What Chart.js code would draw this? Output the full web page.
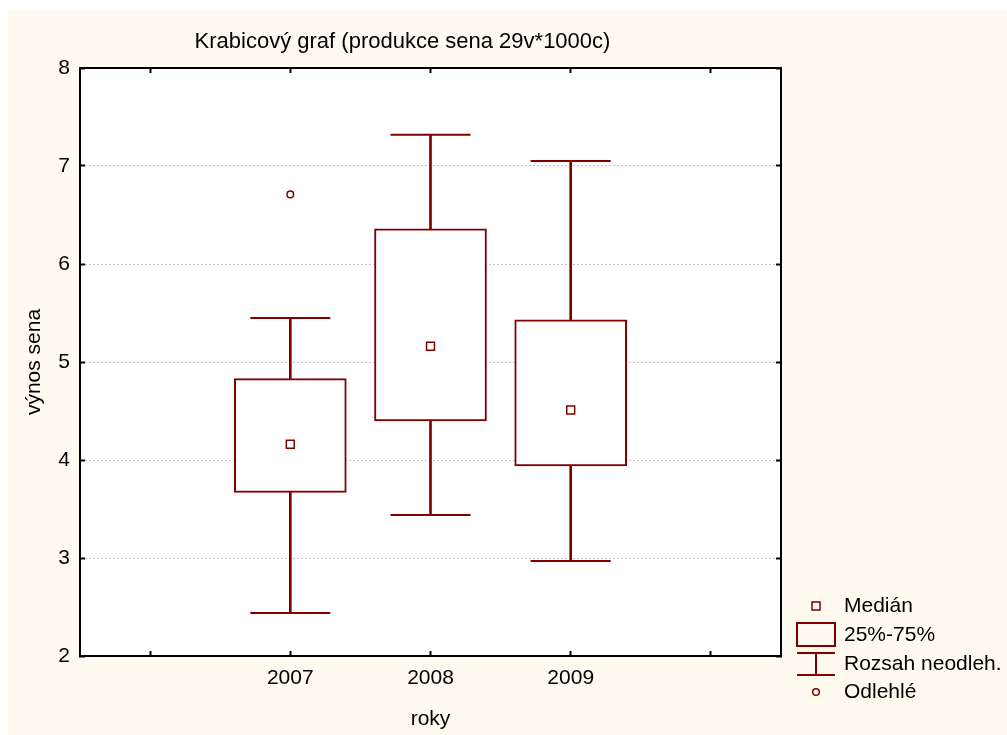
<!DOCTYPE html>
<html lang="cs">
<head>
  <meta charset="UTF-8">
  <title>Krabicový graf</title>
  <script src="https://cdn.jsdelivr.net/npm/chart.js"></script>
  <style>
    html, body { margin: 0; padding: 0; background: #fff; }
  </style>
</head>
<body>
  <canvas id="boxChart" width="1007" height="735"></canvas>

  <script>
    // values
    const years = ['2007', '2008', '2009'];
    const medians = [4.16, 5.16, 4.51];
    const q1 = [3.67, 4.40, 3.94];
    const q3 = [4.83, 6.36, 5.43];
    const whiskerLow = [2.44, 3.44, 2.97];
    const whiskerHigh = [5.45, 7.32, 7.05];
    const outliers = [6.71, null, null];
    const yTicks = [2, 3, 4, 5, 6, 7, 8];
    const legendLabels = ['Medián', '25%-75%', 'Rozsah neodleh.', 'Odlehlé'];

    const dark = '#800000';
    const fontFamily = "'Liberation Sans', Arial, sans-serif";
    const labels = ['', ...years, ''];
    const pad = arr => [null, ...arr, null];

    Chart.defaults.font.family = fontFamily;
    Chart.defaults.font.size = 21;
    Chart.defaults.color = '#000';

    const paper = {
      id: 'paper',
      beforeDraw(chart) {
        const { ctx, width, height, chartArea: a } = chart;
        ctx.save();
        ctx.fillStyle = '#fff';
        ctx.fillRect(0, 0, width, height);
        ctx.fillStyle = '#fefaf0';
        ctx.fillRect(8, 10, width - 8, height - 10);
        ctx.fillStyle = '#fff';
        ctx.fillRect(a.left, a.top, a.right - a.left, a.bottom - a.top);
        ctx.restore();
      }
    };

    // legend with the box plot symbols, below-right of the plot
    const boxLegend = {
      id: 'boxLegend',
      afterDraw(chart) {
        const { ctx, chartArea: a } = chart;
        const sx = a.right + 35;
        const tx = a.right + 63;
        const ys = [a.bottom - 50, a.bottom - 21, a.bottom + 8, a.bottom + 36];
        ctx.save();
        ctx.strokeStyle = dark;

        ctx.lineWidth = 1.5;
        ctx.fillStyle = '#fff';
        ctx.fillRect(sx - 4, ys[0] - 4, 8, 8);
        ctx.strokeRect(sx - 4, ys[0] - 4, 8, 8);

        ctx.lineWidth = 2;
        ctx.strokeRect(sx - 19, ys[1] - 12, 38, 23);

        ctx.beginPath();
        ctx.moveTo(sx - 19, ys[2] - 11); ctx.lineTo(sx + 19, ys[2] - 11);
        ctx.moveTo(sx, ys[2] - 11); ctx.lineTo(sx, ys[2] + 11);
        ctx.moveTo(sx - 19, ys[2] + 11); ctx.lineTo(sx + 19, ys[2] + 11);
        ctx.stroke();

        ctx.lineWidth = 1.5;
        ctx.beginPath();
        ctx.arc(sx, ys[3], 3.3, 0, Math.PI * 2);
        ctx.stroke();

        ctx.fillStyle = '#000';
        ctx.font = '21px ' + fontFamily;
        ctx.textBaseline = 'middle';
        ctx.textAlign = 'left';
        legendLabels.forEach((t, i) => ctx.fillText(t, tx, ys[i]));
        ctx.restore();
      }
    };

    const setTicks = scale => { scale.ticks = yTicks.map(v => ({ value: v })); };
    const inwardTicks = { tickLength: -5, tickColor: '#000', tickWidth: 2 };

    new Chart(document.getElementById('boxChart'), {
      type: 'bar',
      data: {
        labels: labels,
        datasets: [
          {
            label: '25%-75%',
            data: pad(q1.map((v, i) => [v, q3[i]])),
            backgroundColor: '#fff',
            borderColor: dark,
            borderWidth: 2,
            borderSkipped: false,
            barThickness: 112,
            grouped: false,
            order: 3
          },
          {
            label: 'stem low',
            data: pad(whiskerLow.map((v, i) => [v, q1[i]])),
            backgroundColor: dark,
            borderWidth: 0,
            barThickness: 2,
            grouped: false,
            order: 4
          },
          {
            label: 'stem high',
            data: pad(q3.map((v, i) => [v, whiskerHigh[i]])),
            backgroundColor: dark,
            borderWidth: 0,
            barThickness: 2,
            grouped: false,
            order: 4
          },
          {
            type: 'line',
            label: 'cap low',
            data: pad(whiskerLow),
            showLine: false,
            pointStyle: 'line',
            pointRadius: 40,
            pointBorderColor: dark,
            pointBorderWidth: 2,
            order: 2
          },
          {
            type: 'line',
            label: 'cap high',
            data: pad(whiskerHigh),
            showLine: false,
            pointStyle: 'line',
            pointRadius: 40,
            pointBorderColor: dark,
            pointBorderWidth: 2,
            order: 2
          },
          {
            type: 'line',
            label: 'Medián',
            data: pad(medians),
            showLine: false,
            pointStyle: 'rect',
            pointRadius: 5.6,
            pointBackgroundColor: '#fff',
            pointBorderColor: dark,
            pointBorderWidth: 1.5,
            order: 0
          },
          {
            type: 'line',
            label: 'Odlehlé',
            data: pad(outliers),
            showLine: false,
            pointStyle: 'circle',
            pointRadius: 3.3,
            pointBackgroundColor: '#fff',
            pointBorderColor: dark,
            pointBorderWidth: 1.5,
            order: 0
          }
        ]
      },
      options: {
        responsive: false,
        animation: false,
        events: [],
        layout: { padding: { left: 8, top: 10, right: 210, bottom: 0 } },
        plugins: {
          legend: { display: false },
          tooltip: { enabled: false },
          title: {
            display: true,
            text: 'Krabicový graf (produkce sena 29v*1000c)',
            color: '#000',
            font: { size: 22, weight: 'normal', lineHeight: '24px' },
            padding: { top: 20, bottom: 6 }
          }
        },
        scales: {
          x: {
            type: 'category',
            position: 'bottom',
            offset: true,
            grid: { offset: false, drawOnChartArea: false, ...inwardTicks },
            border: { color: '#000', width: 2 },
            ticks: { padding: 15, maxRotation: 0, autoSkip: false },
            title: { display: true, text: 'roky', padding: { top: 0, bottom: 3 } },
            afterFit: s => { s.height = 79; }
          },
          x2: {
            type: 'category',
            position: 'top',
            labels: labels,
            offset: true,
            grid: { offset: false, drawOnChartArea: false, ...inwardTicks },
            border: { color: '#000', width: 2 },
            ticks: { display: false },
            afterFit: s => { s.height = 8; }
          },
          y: {
            type: 'linear',
            position: 'left',
            min: 2,
            max: 8,
            afterBuildTicks: setTicks,
            grid: {
              color: c => (c.tick && (c.tick.value === 2 || c.tick.value === 8)) ? 'transparent' : '#c4c4c4',
              lineWidth: 1,
              ...inwardTicks
            },
            border: { color: '#000', width: 2, dash: [2, 2] },
            ticks: { padding: 15 },
            title: { display: true, text: 'výnos sena', padding: { top: 14, bottom: 0 } },
            afterFit: s => { s.width = 72; }
          },
          y2: {
            type: 'linear',
            position: 'right',
            min: 2,
            max: 8,
            afterBuildTicks: setTicks,
            grid: { drawOnChartArea: false, ...inwardTicks },
            border: { color: '#000', width: 2 },
            ticks: { display: false },
            afterFit: s => { s.width = 16; }
          }
        }
      },
      plugins: [paper, boxLegend]
    });
  </script>
</body>
</html>
